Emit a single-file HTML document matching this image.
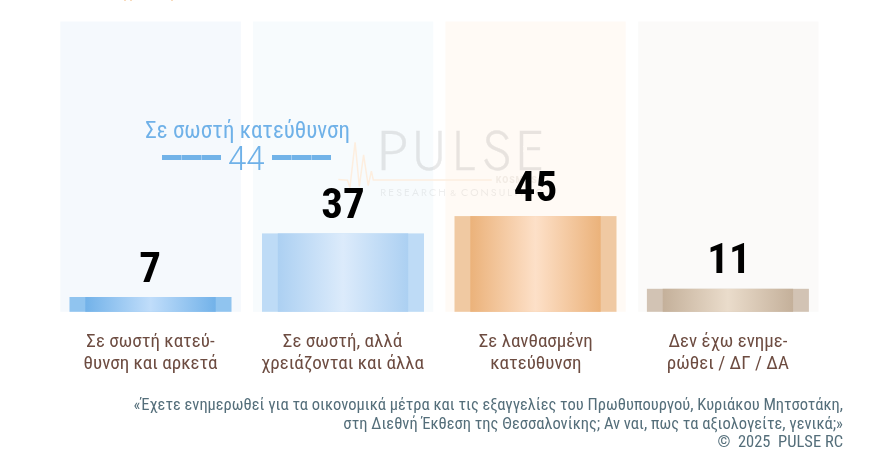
<!DOCTYPE html>
<html lang="el">
<head>
<meta charset="utf-8">
<title>PULSE RC</title>
<style>
html,body{margin:0;padding:0;background:#fff;}
body{width:884px;height:458px;overflow:hidden;position:relative;font-family:"Roboto Condensed","Liberation Sans Narrow","Liberation Sans",sans-serif;}
.val{position:absolute;text-align:center;font-weight:700;font-size:43px;line-height:44px;margin-top:1px;width:100px;color:#000;white-space:nowrap;z-index:5;}
.lbl{position:absolute;top:330.2px;width:200px;text-align:center;font-size:19px;line-height:21.8px;color:#6d4c41;white-space:nowrap;}
.foot{position:absolute;right:41px;text-align:right;font-size:16.5px;color:#546e7a;white-space:nowrap;}
.ann{position:absolute;color:#6fb1e8;white-space:nowrap;text-align:center;z-index:3;}
.dash{position:absolute;height:5.2px;width:59px;top:154.7px;z-index:3;background:linear-gradient(90deg,#72b3e8 0,#72b3e8 19px,#a6cef1 19px,#a6cef1 20px,#72b3e8 20px,#72b3e8 39px,#a6cef1 39px,#a6cef1 40px,#72b3e8 40px);}
.wm{position:absolute;white-space:nowrap;z-index:2;}
.f{display:inline-block;}
.rc{position:absolute;top:173px;white-space:nowrap;z-index:2;font-family:"Jost","Liberation Sans",sans-serif;font-size:10.5px;line-height:40px;letter-spacing:2.1px;color:rgba(60,60,60,0.085);}
.wlg{position:absolute;left:0;top:0;width:884px;height:458px;opacity:0.115;z-index:2;}
.wl{position:absolute;top:111px;font-family:"Jost","Liberation Sans",sans-serif;font-weight:300;font-size:56px;line-height:80px;color:#3c3c3c;-webkit-text-stroke:0.4px #3c3c3c;}
</style>
</head>
<body>
<svg style="position:absolute;left:0;top:0;z-index:0" width="884" height="458" viewBox="0 0 884 458">
<defs>
<linearGradient id="g1" x1="0" x2="1" y1="0" y2="0"><stop offset="0" stop-color="#72b2e9"/><stop offset="0.5" stop-color="#c0ddfa"/><stop offset="1" stop-color="#72b2e9"/></linearGradient>
<linearGradient id="g2" x1="0" x2="1" y1="0" y2="0"><stop offset="0" stop-color="#acd0f2"/><stop offset="0.5" stop-color="#dcebfb"/><stop offset="1" stop-color="#acd0f2"/></linearGradient>
<linearGradient id="g3" x1="0" x2="1" y1="0" y2="0"><stop offset="0" stop-color="#ebb27a"/><stop offset="0.5" stop-color="#fde0c8"/><stop offset="1" stop-color="#ebb27a"/></linearGradient>
<linearGradient id="g4" x1="0" x2="1" y1="0" y2="0"><stop offset="0" stop-color="#c4b09a"/><stop offset="0.5" stop-color="#eadccb"/><stop offset="1" stop-color="#c4b09a"/></linearGradient>
</defs>
<rect x="60.3" y="21.5" width="180.6" height="290.3" fill="#f5f9fd"/>
<rect x="253.0" y="21.5" width="180.3" height="290.3" fill="#f7fbfd"/>
<rect x="445.4" y="21.5" width="180.3" height="290.3" fill="#fffaf5"/>
<rect x="638.2" y="21.5" width="180.3" height="290.3" fill="#fbfaf9"/>
<rect x="69.5" y="297.0" width="162.0" height="14.8" fill="#90c4ef"/>
<rect x="85.3" y="297.0" width="130.4" height="14.8" fill="url(#g1)"/>
<rect x="262.0" y="233.4" width="162.0" height="78.4" fill="#bedbf6"/>
<rect x="277.8" y="233.4" width="130.4" height="78.4" fill="url(#g2)"/>
<rect x="454.5" y="216.1" width="162.0" height="95.7" fill="#f0c9a2"/>
<rect x="470.3" y="216.1" width="130.4" height="95.7" fill="url(#g3)"/>
<rect x="646.9" y="288.8" width="162.0" height="23.0" fill="#d2c3b4"/>
<rect x="662.7" y="288.8" width="130.4" height="23.0" fill="url(#g4)"/>
</svg>

<!-- clipped title descenders -->
<div style="position:absolute;left:123.6px;top:0;width:2px;height:1.2px;background:#f7d7b4;border-radius:1px"></div>
<div style="position:absolute;left:129.8px;top:0;width:2px;height:1.2px;background:#f7d7b4;border-radius:1px"></div>
<div style="position:absolute;left:171.4px;top:0;width:2px;height:1.2px;background:#f7d7b4;border-radius:1px"></div>

<!-- watermark -->
<svg class="wm" style="left:0;top:0" width="884" height="458" viewBox="0 0 884 458">
  <polyline points="338.3,179.6 347.5,180.2 349.9,187.6 355.1,142.4 359.3,186.3 363.6,154.9 368.2,185.7 371.4,171.2 373.3,179.9 491.8,179.9" fill="none" stroke="#fdeedf" stroke-width="1.5" stroke-linejoin="miter"/>
</svg>
<div class="wlg">
<div class="wl" style="left:377px;transform:scaleX(1.09);transform-origin:4px 0">P</div>
<div class="wl" style="left:412px">U</div>
<div class="wl" style="left:452.2px;transform:scaleX(0.93);transform-origin:4px 0">L</div>
<div class="wl" style="left:482px">S</div>
<div class="wl" style="left:515.2px;clip-path:polygon(evenodd,0 0,60px 0,60px 80px,0 80px,0 0,8px 35px,11.8px 35px,11.8px 41px,8px 41px,8px 35px,0 0)">E</div>
</div>
<div class="rc" style="left:380.3px">RESEARCH</div>
<div class="rc" style="left:450.3px;font-size:8.5px">&amp;</div>
<div class="rc" style="left:460.9px">CONSULTING</div>
<div class="wm" style="left:495.8px;top:174px;font-family:'Roboto','Liberation Sans',sans-serif;font-weight:900;font-size:8.8px;line-height:12px;letter-spacing:0.9px;color:rgba(110,90,70,0.09);">KOSMOS</div>

<!-- values -->
<div class="val" style="left:100.2px;top:244px"><span class="f">7</span></div>
<div class="val" style="left:292.9px;top:180px"><span class="f">37</span></div>
<div class="val" style="left:485.5px;top:163px"><span class="f">45</span></div>
<div class="val" style="left:679.1px;top:235px"><span class="f">11</span></div>

<!-- annotation -->
<div class="ann" style="left:127.6px;top:117px;width:240px;font-size:23px;line-height:28px;"><span class="f">Σε σωστή κατεύθυνση</span></div>
<div class="dash" style="left:162px"></div>
<div class="ann" style="left:226.3px;top:139.5px;width:40px;font-family:'Roboto','Liberation Sans',sans-serif;font-weight:350;font-size:33px;line-height:38px;"><span class="f">44</span></div>
<div class="dash" style="left:272px;width:58.5px"></div>

<!-- labels -->
<div class="lbl" style="left:50.5px"><span class="f">Σε σωστή κατεύ-</span></div>
<div class="lbl" style="left:50.5px;top:352px"><span class="f">θυνση και αρκετά</span></div>
<div class="lbl" style="left:242.5px"><span class="f">Σε σωστή, αλλά</span></div>
<div class="lbl" style="left:242.5px;top:352px"><span class="f">χρειάζονται και άλλα</span></div>
<div class="lbl" style="left:435.8px"><span class="f">Σε λανθασμένη</span></div>
<div class="lbl" style="left:435.8px;top:352px"><span class="f">κατεύθυνση</span></div>
<div class="lbl" style="left:627.9px"><span class="f">Δεν έχω ενημε-</span></div>
<div class="lbl" style="left:627.9px;top:352px"><span class="f">ρώθει / ΔΓ / ΔΑ</span></div>

<!-- footer -->
<div class="foot" style="top:395px;line-height:19px;"><span class="f r">«Έχετε ενημερωθεί για τα οικονομικά μέτρα και τις εξαγγελίες του Πρωθυπουργού, Κυριάκου Μητσοτάκη,</span></div>
<div class="foot" style="top:413.5px;line-height:19px;"><span class="f r">στη Διεθνή Έκθεση της Θεσσαλονίκης; Αν ναι, πως τα αξιολογείτε, γενικά;»</span></div>
<div class="foot" style="top:432.2px;line-height:19px;"><span class="f r">©&nbsp; 2025&nbsp; PULSE RC</span></div>
<script>
(function(){
  var exp=[21.73,43.47,43.47,43.47,204.78,36.61,128.34,133.81,119.33,163,113.98,91.14,119,122.23,709.42,499.66,125.61];
  var els=document.querySelectorAll('.f');
  for(var i=0;i<els.length&&i<exp.length;i++){
    var w=els[i].getBoundingClientRect().width;
    if(!w) continue;
    var k=exp[i]/w;
    if(k<0.97||k>1.03){
      els[i].style.transformOrigin=(els[i].className.indexOf('r')>=0)?'100% 50%':'50% 50%';
      els[i].style.transform='scaleX('+k.toFixed(4)+')';
    }
  }
})();
</script>
</body>
</html>
